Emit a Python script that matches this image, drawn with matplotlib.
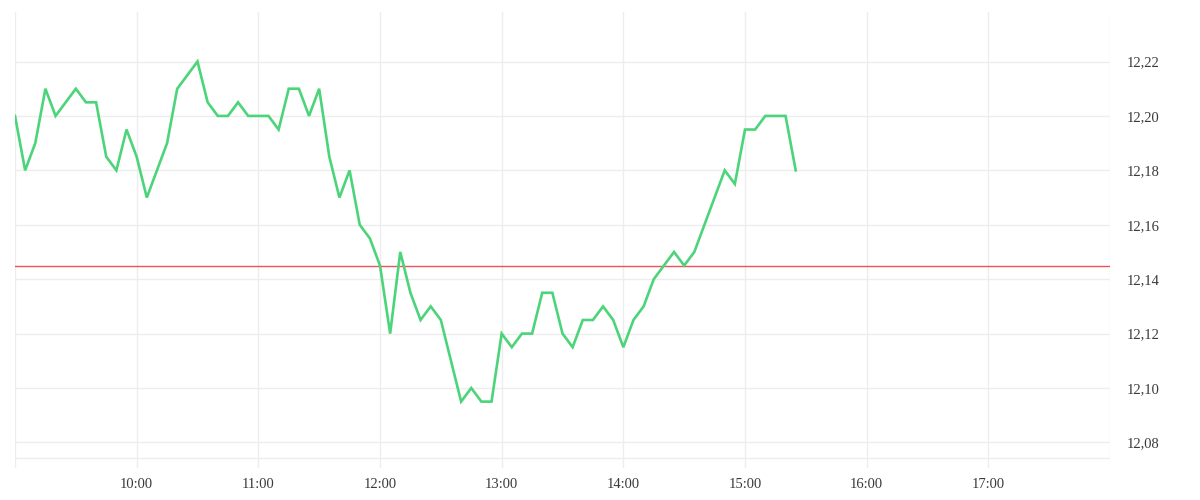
import matplotlib
matplotlib.use("Agg")
import matplotlib.pyplot as plt
import numpy as np

# 5-minute prices from 9:00 to 15:25
start_minute = 9 * 60
step_minutes = 5
prices = [
    12.20, 12.18, 12.19, 12.21, 12.20, 12.205, 12.21, 12.205, 12.205, 12.185,
    12.18, 12.195, 12.185, 12.17, 12.18, 12.19, 12.21, 12.215, 12.22, 12.205,
    12.20, 12.20, 12.205, 12.20, 12.20, 12.20, 12.195, 12.21, 12.21, 12.20,
    12.21, 12.185, 12.17, 12.18, 12.16, 12.155, 12.145, 12.12, 12.15, 12.135,
    12.125, 12.13, 12.125, 12.11, 12.095, 12.10, 12.095, 12.095, 12.12, 12.115,
    12.12, 12.12, 12.135, 12.135, 12.12, 12.115, 12.125, 12.125, 12.13, 12.125,
    12.115, 12.125, 12.13, 12.14, 12.145, 12.15, 12.145, 12.15, 12.16, 12.17,
    12.18, 12.175, 12.195, 12.195, 12.20, 12.20, 12.20, 12.18,
]
prev_close = 12.145

hours = list(range(9, 19))
hour_labels = ["10:00", "11:00", "12:00", "13:00", "14:00", "15:00", "16:00", "17:00"]
price_ticks = [12.08, 12.10, 12.12, 12.14, 12.16, 12.18, 12.20, 12.22]

minutes = start_minute + step_minutes * np.arange(len(prices))

fig = plt.figure(figsize=(12, 5), dpi=100)
ax = fig.add_axes([15 / 1200, 32 / 500, 1095 / 1200, 456 / 500])

grid_col = "#ededed"
for h in hours:
    ax.axvline(h * 60, color=grid_col, lw=1, zorder=0)
for p in price_ticks:
    ax.axhline(p, color=grid_col, lw=1, zorder=0)
ax.plot([0, 1], [0.022, 0.022], transform=ax.transAxes, color=grid_col, lw=1, zorder=0)

ax.axhline(prev_close, color="#f0505a", lw=1, zorder=2)
ax.plot(minutes, prices, color="#4cd47b", lw=1.9, zorder=3, solid_joinstyle="miter")

ax.set_xlim(hours[0] * 60, hours[-1] * 60)
ax.set_ylim(12.0706, 12.2382)

ax.set_xticks([h * 60 for h in hours[1:-1]])
ax.set_xticklabels(hour_labels)
ax.set_yticks(price_ticks)
ax.set_yticklabels([f"{p:.2f}".replace(".", ",") for p in price_ticks])
ax.yaxis.tick_right()

for s in ax.spines.values():
    s.set_visible(False)
ax.tick_params(axis="both", length=0, labelcolor="#3a3a3a")
ax.tick_params(axis="y", pad=12)
ax.tick_params(axis="x", pad=7)
for lbl in ax.get_xticklabels() + ax.get_yticklabels():
    lbl.set_family("Liberation Serif")
    lbl.set_fontsize(10.5)

fig.savefig("out.png", dpi=100)
